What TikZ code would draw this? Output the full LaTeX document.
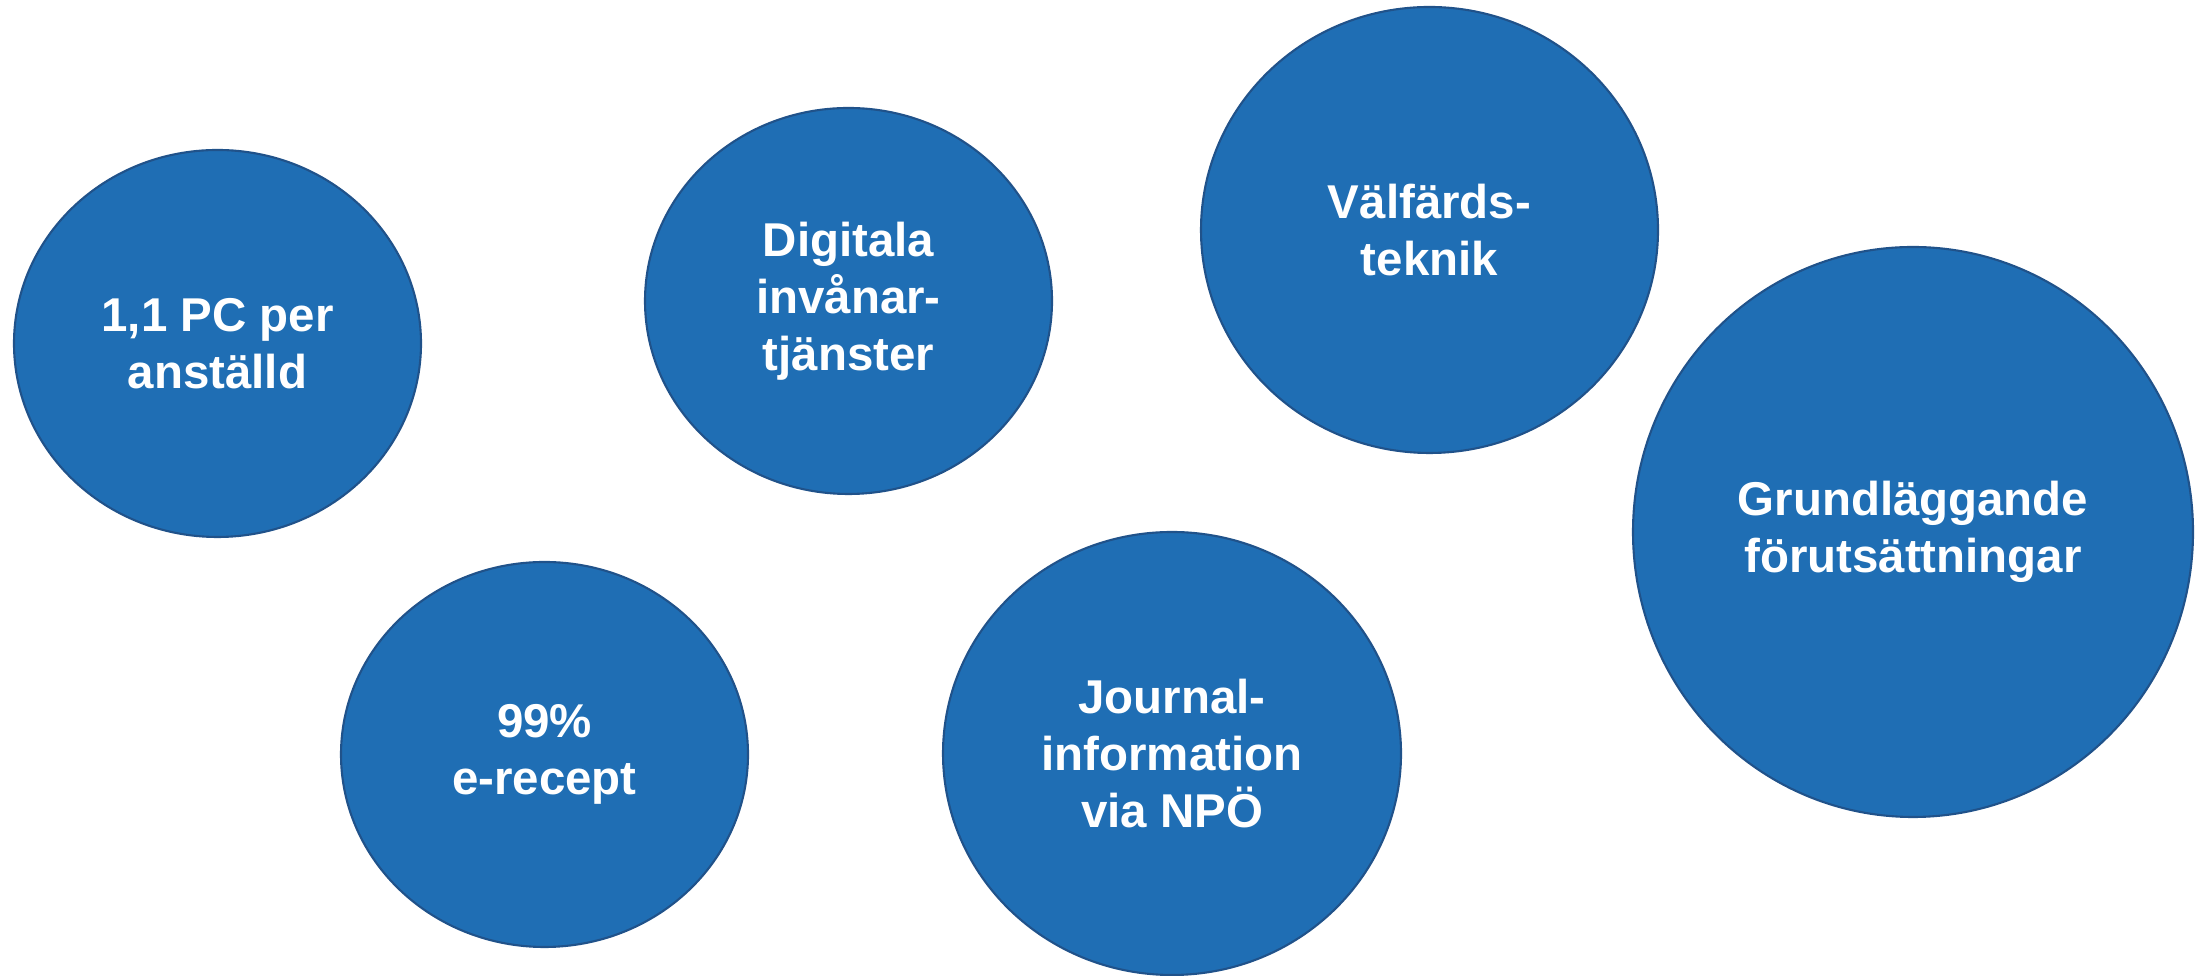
\documentclass[tikz,border=0pt]{standalone}
\usepackage{fontspec}
\setmainfont{Liberation Sans}
\usetikzlibrary{shapes.geometric}
\definecolor{bubblefill}{RGB}{31,110,180}
\definecolor{bubbleline}{RGB}{32,82,138}
\begin{document}
\begin{tikzpicture}[
  bubble/.style={ellipse, draw=bubbleline, line width=0.6pt, fill=bubblefill,
    inner sep=0pt, text=white, align=center,
    font=\fontsize{13.5pt}{16.2pt}\selectfont\bfseries}
]
\useasboundingbox (0,0) rectangle (22.08,9.76);
\node[bubble, minimum width=4.07cm, minimum height=3.87cm] (pc) at (2.175,6.325) {1,1 PC per\\anställd};
\node[bubble, minimum width=4.07cm, minimum height=3.86cm] (dig) at (8.485,6.75) {Digitala\\invånar-\\tjänster};
\node[bubble, minimum width=4.57cm, minimum height=4.46cm] (valf) at (14.295,7.46) {Välfärds-\\teknik};
\node[bubble, minimum width=5.60cm, minimum height=5.70cm] (grund) at (19.13,4.44) {Grundläggande\\förutsättningar};
\node[bubble, minimum width=4.07cm, minimum height=3.85cm] (erec) at (5.445,2.215) {99\%\\e-recept};
\node[bubble, minimum width=4.58cm, minimum height=4.43cm] (npo) at (11.72,2.225) {Journal-\\information\\via NPÖ};
\end{tikzpicture}
\end{document}
